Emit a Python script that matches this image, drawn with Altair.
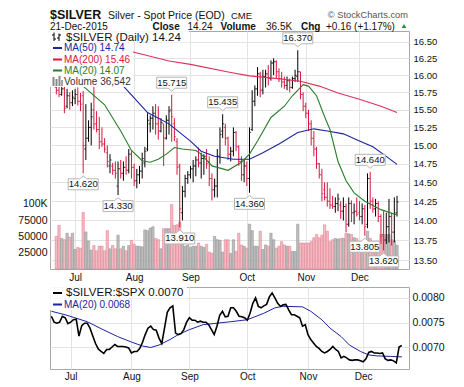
import altair as alt
import pandas as pd

# ---------------- data ----------------
MONTH_LABELS = ["Jul", "Aug", "Sep", "Oct", "Nov", "Dec"]
MONTH_START = [7, 29, 50, 71, 93, 113]          # trading-day index of first bar of each month

OPEN = [15.82, 15.78, 15.72, 15.80, 15.55, 15.70, 15.60, 15.66, 15.72, 15.62,
        15.70, 14.95, 15.10, 15.25, 15.50, 15.30, 15.22, 15.05, 15.02, 14.90,
        14.72, 14.72, 14.66, 14.45, 14.68, 14.62, 14.70, 14.66, 14.88, 14.70,
        14.52, 14.60, 14.65, 14.76, 14.95, 15.30, 15.38, 15.45, 15.30, 15.20,
        15.30, 15.10, 15.35, 15.50, 15.30, 15.05, 14.72, 14.10, 14.38, 14.55,
        14.60, 14.68, 14.72, 14.80, 14.76, 14.82, 14.85, 14.78, 14.55, 14.40,
        14.45, 14.85, 15.20, 15.25, 15.10, 14.88, 14.92, 15.18, 14.98, 14.78,
        14.60, 14.72, 14.55, 15.22, 15.62, 15.80, 16.02, 15.78, 15.98, 16.02,
        15.95, 16.18, 16.20, 16.05, 15.95, 15.90, 15.85, 15.92, 15.82, 15.95,
        15.98, 16.05, 15.72, 15.55, 15.45, 15.30, 15.10, 14.95, 14.75, 14.60,
        14.40, 14.30, 14.25, 14.20, 14.18, 14.22, 14.20, 14.12, 14.18, 13.95,
        14.22, 14.10, 14.12, 14.10, 14.05, 14.15, 13.95, 14.55, 14.25, 14.15,
        14.22, 14.05, 13.82, 13.75, 13.92, 14.05, 13.85, 14.10]
HIGH = [15.90, 15.88, 15.86, 15.84, 15.80, 15.75, 15.78, 15.80, 15.82, 15.74,
        15.77, 15.58, 15.35, 15.60, 15.88, 15.48, 15.40, 15.25, 15.10, 15.00,
        14.88, 14.76, 14.78, 14.78, 14.80, 14.78, 14.85, 14.95, 14.92, 14.75,
        14.68, 14.72, 14.90, 14.98, 15.45, 15.42, 15.55, 15.58, 15.55, 15.38,
        15.30, 15.42, 15.55, 15.715, 15.38, 15.10, 14.75, 14.45, 14.60, 14.65,
        14.72, 14.80, 14.85, 14.97, 14.90, 14.88, 14.95, 14.85, 14.62, 14.55,
        14.95, 15.25, 15.435, 15.30, 15.12, 14.98, 15.25, 15.20, 15.00, 14.85,
        14.80, 14.78, 15.25, 15.78, 15.85, 16.12, 16.05, 16.08, 16.08, 16.15,
        16.22, 16.25, 16.22, 16.10, 16.05, 15.98, 15.98, 15.95, 15.98, 16.08,
        16.37, 16.05, 15.75, 15.60, 15.50, 15.35, 15.20, 14.98, 14.76, 14.68,
        14.50, 14.50, 14.42, 14.32, 14.30, 14.35, 14.25, 14.30, 14.22, 14.30,
        14.26, 14.22, 14.30, 14.25, 14.22, 14.20, 14.62, 14.64, 14.30, 14.28,
        14.25, 14.08, 14.12, 14.10, 14.28, 14.10, 14.30, 14.32]
LOW = [15.72, 15.68, 15.70, 15.45, 15.52, 15.50, 15.55, 15.58, 15.56, 15.48,
       14.62, 14.80, 15.05, 15.00, 15.22, 15.18, 14.95, 14.98, 14.90, 14.70,
       14.62, 14.60, 14.55, 14.33, 14.55, 14.52, 14.60, 14.62, 14.55, 14.45,
       14.42, 14.48, 14.55, 14.70, 14.92, 15.18, 15.22, 15.15, 15.08, 15.18,
       14.72, 15.08, 15.15, 15.05, 15.06, 14.60, 13.91, 14.00, 14.30, 14.48,
       14.55, 14.50, 14.58, 14.70, 14.55, 14.60, 14.68, 14.45, 14.26, 14.30,
       14.30, 14.75, 15.10, 15.00, 14.80, 14.78, 14.85, 14.92, 14.72, 14.52,
       14.50, 14.45, 14.36, 15.20, 15.55, 15.70, 15.68, 15.72, 15.82, 15.85,
       15.92, 16.00, 15.95, 15.90, 15.82, 15.80, 15.78, 15.75, 15.80, 15.90,
       15.90, 15.65, 15.48, 15.38, 15.20, 15.00, 14.85, 14.68, 14.55, 14.25,
       14.26, 14.18, 14.15, 14.15, 14.10, 14.12, 14.02, 14.00, 13.85, 13.92,
       13.98, 13.95, 14.05, 14.00, 13.95, 13.805, 13.90, 14.15, 14.10, 14.05,
       13.98, 13.70, 13.62, 13.70, 13.72, 13.68, 13.72, 14.05]
CLOSE = [15.78, 15.72, 15.80, 15.52, 15.70, 15.60, 15.68, 15.72, 15.62, 15.58,
         15.00, 15.10, 15.25, 15.40, 15.30, 15.22, 15.05, 15.02, 14.95, 14.78,
         14.80, 14.66, 14.62, 14.68, 14.62, 14.70, 14.66, 14.88, 14.70, 14.52,
         14.60, 14.65, 14.82, 14.92, 15.35, 15.38, 15.45, 15.30, 15.20, 15.32,
         15.10, 15.35, 15.48, 15.40, 15.12, 14.70, 14.15, 14.38, 14.55, 14.60,
         14.68, 14.72, 14.80, 14.76, 14.82, 14.85, 14.75, 14.55, 14.40, 14.45,
         14.85, 15.15, 15.30, 15.10, 14.88, 14.92, 15.18, 14.98, 14.78, 14.60,
         14.72, 14.55, 15.18, 15.62, 15.80, 16.02, 15.78, 15.98, 16.02, 15.95,
         16.18, 16.20, 16.05, 15.95, 15.90, 15.85, 15.92, 15.82, 15.95, 16.00,
         16.05, 15.72, 15.55, 15.45, 15.30, 15.10, 14.95, 14.75, 14.60, 14.35,
         14.30, 14.25, 14.20, 14.18, 14.22, 14.28, 14.12, 14.18, 13.95, 14.22,
         14.10, 14.12, 14.08, 14.05, 14.15, 13.92, 14.55, 14.25, 14.15, 14.22,
         14.05, 13.80, 13.75, 13.92, 14.05, 13.85, 14.08, 14.24]
VOLUME = [50000, 67000, 47000, 45000, 55000, 49000, 55000, 30000, 33000, 32000,
          87000, 57000, 43000, 29000, 36000, 28000, 35000, 35000, 28000, 59000,
          31000, 36000, 31000, 52000, 31000, 35000, 28000, 36000, 44000, 38000,
          35000, 35000, 34000, 60000, 59000, 63000, 65000, 47000, 45000, 31000,
          62000, 62000, 62000, 99000, 67000, 68000, 72000, 52000, 35000, 37000,
          33000, 35000, 35000, 40000, 35000, 33000, 38000, 26000, 24000, 50000,
          45000, 44000, 26000, 45000, 45000, 24000, 45000, 27000, 55000, 37000,
          35000, 32000, 69000, 59000, 35000, 35000, 58000, 30000, 37000, 35000,
          55000, 45000, 32000, 35000, 42000, 37000, 35000, 35000, 27000, 27000,
          69000, 40000, 40000, 40000, 40000, 42000, 48000, 53000, 48000, 52000,
          68000, 58000, 42000, 45000, 47000, 46000, 47000, 47000, 55000, 54000,
          53000, 48000, 47000, 42000, 37000, 42000, 58000, 47000, 37000, 35000,
          42000, 53000, 53000, 53000, 53000, 45000, 43000, 36542]

MA200_IDX = [0, 12, 24, 32, 42, 50, 65, 72, 80, 91, 98, 105, 113, 121, 127]
MA200 = [16.70, 16.55, 16.39, 16.31, 16.21, 16.16, 16.04, 15.99, 15.96, 15.91,
         15.84, 15.74, 15.65, 15.55, 15.46]
MA50_IDX = [0, 10, 20, 25, 29, 34, 42, 50, 54, 59, 66, 72, 77, 83, 90, 96, 101,
            107, 113, 118, 123, 127]
MA50 = [16.30, 16.12, 15.96, 15.84, 15.67, 15.46, 15.30, 15.06, 14.92, 14.85,
        14.81, 14.81, 14.90, 15.02, 15.18, 15.23, 15.20, 15.16, 15.06, 14.98,
        14.85, 14.74]
MA20_IDX = [0, 5, 10, 12, 18, 24, 28, 32, 35, 38, 41, 44, 47, 52, 54, 58, 64,
            69, 72, 75, 80, 85, 88, 92, 94, 97, 100, 102, 105, 108, 111, 115,
            121, 127]
MA20 = [16.02, 15.92, 15.84, 15.77, 15.57, 15.20, 14.93, 14.79, 14.77, 14.81,
        14.88, 14.97, 14.95, 14.93, 14.88, 14.72, 14.66, 14.77, 14.88, 15.06,
        15.39, 15.55, 15.70, 15.86, 15.84, 15.70, 15.40, 15.22, 14.78, 14.52,
        14.36, 14.25, 14.14, 14.07]

RATIO = [.00763, .00751, .00749, .00751, .00763, .00760, .00748, .00751, .00756, .00757,
         .00723, .00744, .00749, .00749, .00739, .00723, .00708, .00697, .00692, .00688,
         .00696, .00696, .00701, .00706, .00702, .00702, .00702, .00701, .00699, .00689,
         .00692, .00692, .00698, .00710, .00726, .00739, .00743, .00736, .00735, .00719,
         .00708, .00739, .00771, .00780, .00784, .00729, .00726, .00728, .00736, .00751,
         .00760, .00755, .00755, .00751, .00753, .00751, .00751, .00746, .00736, .00726,
         .00743, .00765, .00773, .00762, .00763, .00780, .00780, .00773, .00763, .00762,
         .00760, .00755, .00769, .00789, .00800, .00783, .00780, .00784, .00787, .00802,
         .00810, .00800, .00789, .00783, .00786, .00787, .00776, .00766, .00766, .00763,
         .00760, .00743, .00746, .00726, .00716, .00709, .00702, .00698, .00692, .00689,
         .00692, .00696, .00702, .00696, .00692, .00679, .00682, .00679, .00675, .00674,
         .00675, .00675, .00673, .00671, .00677, .00690, .00692, .00689, .00689, .00688,
         .00689, .00677, .00674, .00675, .00673, .00669, .00701, .00704]
RATIO_MA_IDX = [0, 5, 13, 18, 24, 29, 33, 36, 39, 43, 46, 50, 55, 60, 65, 71, 77,
                81, 84, 91, 94, 98, 101, 105, 108, 112, 115, 118, 123, 127]
RATIO_MA = [.00773, .00766, .00752, .00738, .00722, .00711, .00703, .00700, .00705,
            .00716, .00726, .00736, .00746, .00749, .00752, .00756, .00769, .00780,
            .00783, .00782, .00773, .00756, .00739, .00722, .00705, .00692, .00685,
            .00683, .00682, .00681]

HI_LABEL_IDX = [43, 62, 90, 117]
HI_LABEL_VAL = [15.715, 15.435, 16.370, 14.640]
LO_LABEL_IDX = [10, 23, 46, 72, 115, 122]
LO_LABEL_VAL = [14.620, 14.330, 13.910, 14.360, 13.805, 13.620]

PRICE_TICKS = [13.50, 13.75, 14.00, 14.25, 14.50, 14.75, 15.00, 15.25, 15.50,
               15.75, 16.00, 16.25, 16.50]
VOL_TICKS = [25000, 50000, 75000, 100000]
RATIO_TICKS = [0.0070, 0.0075, 0.0080]

# ---------------- styling ----------------
FONT = "Liberation Sans"
GRID = "#e3e3e3"
RED = "#d8163e"
BLUE = "#1c24a0"
MA200_C = "#e0305a"
GREEN = "#2a7d2a"
W, H_TOP, H_BOT = 359, 238, 82

bars = pd.DataFrame({"i": list(range(len(CLOSE))), "o": OPEN, "h": HIGH,
                     "l": LOW, "c": CLOSE, "v": VOLUME})
prev_close = bars["c"].shift(1).fillna(bars["o"])
bars["dir"] = ["up" if c >= p else "down" for c, p in zip(bars["c"], prev_close)]

month_expr = " : ".join(f"datum.value == {i} ? '{m}'"
                        for i, m in zip(MONTH_START, MONTH_LABELS)) + " : ''"
XS = alt.Scale(domain=[-0.5, 129.6], nice=False, zero=False)


def xenc(field="i", pad=3):
    return alt.X(f"{field}:Q", scale=XS,
                 axis=alt.Axis(values=MONTH_START, labelExpr=month_expr, grid=True,
                               gridColor=GRID, ticks=False, domain=False,
                               labelPadding=pad, title=None, labelFontSize=10))


PS = alt.Scale(type="log", domain=[13.389, 16.663], nice=False, zero=False)
price_axis = alt.Axis(orient="right", values=PRICE_TICKS, format=".2f", grid=True,
                      gridColor=GRID, ticks=False, domain=False, labelPadding=4,
                      title=None, labelFontSize=9.5)


def yprice(field):
    return alt.Y(f"{field}:Q", scale=PS, axis=price_axis)


dir_color = alt.Color("dir:N", scale=alt.Scale(domain=["up", "down"],
                                               range=["#000000", RED]), legend=None)

# volume
vol = alt.Chart(bars).mark_bar(width=2.3, strokeWidth=0.6, opacity=0.9).encode(
    x=xenc(),
    y=alt.Y("v:Q", scale=alt.Scale(domain=[0, 366000], nice=False),
            axis=alt.Axis(orient="left", values=VOL_TICKS,
                          labelExpr="datum.value >= 100000 ? '100K' : '' + datum.value",
                          grid=False, ticks=False, domain=False, title=None,
                          labelPadding=3, labelFontSize=10.5)),
    fill=alt.Fill("dir:N", scale=alt.Scale(domain=["up", "down"],
                                           range=["#b9b9b9", "#f2b5bf"]), legend=None),
    stroke=alt.Stroke("dir:N", scale=alt.Scale(domain=["up", "down"],
                                               range=["#8c8c8c", "#e07888"]), legend=None),
)

hl = alt.Chart(bars).mark_rule(strokeWidth=1).encode(
    x=xenc(), y=yprice("h"), y2="l", color=dir_color)
opn = alt.Chart(bars).mark_tick(orient="horizontal", size=1.6, thickness=1,
                                xOffset=-0.8).encode(x=xenc(), y=yprice("o"), color=dir_color)
cls = alt.Chart(bars).mark_tick(orient="horizontal", size=1.6, thickness=1,
                                xOffset=0.8).encode(x=xenc(), y=yprice("c"), color=dir_color)


def ma_line(idx, vals, color):
    d = pd.DataFrame({"i": idx, "m": vals})
    return alt.Chart(d).mark_line(color=color, strokeWidth=1.1, clip=True).encode(
        x=xenc(), y=yprice("m"))


ma200 = ma_line(MA200_IDX, MA200, MA200_C)
ma50 = ma_line(MA50_IDX, MA50, BLUE)
ma20 = ma_line(MA20_IDX, MA20, GREEN)

BOX_HI = "M-1.5,-0.55H1.5V0.55H0.35L0,0.85L-0.35,0.55H-1.5Z"
BOX_LO = "M-1.5,0.55H1.5V-0.55H0.35L0,-0.85L-0.35,-0.55H-1.5Z"
hi_df = pd.DataFrame({"i": HI_LABEL_IDX, "p": HI_LABEL_VAL,
                      "t": [f"{v:.3f}" for v in HI_LABEL_VAL]})
lo_df = pd.DataFrame({"i": LO_LABEL_IDX, "p": LO_LABEL_VAL,
                      "t": [f"{v:.3f}" for v in LO_LABEL_VAL]})


def label_layers(d, path, dy):
    box = alt.Chart(d).mark_point(shape=path, size=400, filled=True, fill="white",
                                  stroke="#b5b5b5", strokeWidth=1, opacity=1,
                                  yOffset=dy).encode(x=xenc(), y=yprice("p"))
    txt = alt.Chart(d).mark_text(font=FONT, fontSize=9.5, color="#111", yOffset=dy,
                                 baseline="middle").encode(x=xenc(), y=yprice("p"), text="t:N")
    return [box, txt]


dummy = pd.DataFrame({"a": [0]})


def rect(x0, x1, y0, y1, color="white", opacity=0.92):
    return alt.Chart(dummy).mark_rect(color=color, opacity=opacity).encode(
        x=alt.value(x0), x2=alt.value(x1), y=alt.value(y0), y2=alt.value(y1))


def seg(x0, x1, y0, y1, color, w=2):
    return alt.Chart(dummy).mark_rule(color=color, strokeWidth=w).encode(
        x=alt.value(x0), x2=alt.value(x1), y=alt.value(y0), y2=alt.value(y1))


def txt(x, y, s, size=10, color="#111", weight="normal", align="left",
        baseline="middle", font=FONT):
    return alt.Chart(dummy).mark_text(text=s, font=font, fontSize=size, color=color,
                                      fontWeight=weight, align=align,
                                      baseline=baseline).encode(
        x=alt.value(x), y=alt.value(y))


legend_top = [
    rect(0, 139, 0, 11.5), rect(0, 83, 11.5, 56),
    seg(4, 4, 1.5, 10, "#000", 1), seg(2, 4, 4, 4, "#000", 1), seg(4, 6, 8, 8, "#000", 1),
    seg(9, 9, 2.5, 10, "#000", 1), seg(7, 9, 7, 7, "#000", 1), seg(9, 11, 4, 4, "#000", 1),
    txt(16, 6.5, "$SILVER (Daily) 14.24", 11.5),
    seg(3, 12, 17, 17, BLUE), txt(14, 17, "MA(50) 14.74", 10, BLUE),
    seg(3, 12, 28.5, 28.5, RED), txt(14, 28.5, "MA(200) 15.46", 10, RED),
    seg(3, 12, 39.5, 39.5, GREEN), txt(14, 39.5, "MA(20) 14.07", 10, GREEN),
    seg(3.5, 3.5, 46, 55, "#888", 2), seg(6.5, 6.5, 48, 55, "#888", 2),
    seg(9.5, 9.5, 45, 55, "#888", 2), seg(12, 12, 49, 55, "#888", 1.5),
    txt(14, 50.5, "Volume 36,542", 10, "#333"),
]

R1, R2 = -12.5, -1.5
header = [
    txt(0, R1, "$SILVER", 12.5, "#111", "bold", baseline="alphabetic"),
    txt(58, R1, "Silver - Spot Price (EOD)", 10.5, baseline="alphabetic"),
    txt(181, R1, "CME", 9.5, baseline="alphabetic"),
    txt(358, R1 - 1, "\u00a9 StockCharts.com", 9.3, "#555", align="right",
        baseline="alphabetic"),
    txt(0, R2, "21-Dec-2015", 10, baseline="alphabetic"),
    txt(102.5, R2, "Close", 10, weight="bold", baseline="alphabetic"),
    txt(137.5, R2, "14.24", 10, baseline="alphabetic"),
    txt(170.5, R2, "Volume", 10, weight="bold", baseline="alphabetic"),
    txt(216, R2, "36.5K", 10, baseline="alphabetic"),
    txt(251, R2, "Chg", 10, weight="bold", baseline="alphabetic"),
    txt(276, R2, "+0.16 (+1.17%)", 10, baseline="alphabetic"),
    alt.Chart(dummy).mark_point(shape="triangle-up", filled=True, color="#2e8b3a",
                                size=22, opacity=1).encode(x=alt.value(354), y=alt.value(-5)),
]

price_layer = alt.layer(hl, opn, cls, ma200, ma50, ma20,
                        *label_layers(hi_df, BOX_HI, -12),
                        *label_layers(lo_df, BOX_LO, 11),
                        *legend_top, *header)

top = alt.layer(vol, price_layer).resolve_scale(y="independent").properties(
    width=W, height=H_TOP)

# ---------------- lower panel ----------------
ratio_df = pd.DataFrame({"i": list(range(len(RATIO))), "r": RATIO})
rma_df = pd.DataFrame({"i": RATIO_MA_IDX, "r": RATIO_MA})
RS = alt.Scale(domain=[0.006566, 0.00822], nice=False, zero=False)
ratio_axis = alt.Axis(orient="right", values=RATIO_TICKS, format=".4f", grid=True,
                      gridColor=GRID, ticks=False, domain=False, labelPadding=3,
                      title=None, labelFontSize=10.5)

rma = alt.Chart(rma_df).mark_line(color=BLUE, strokeWidth=1).encode(
    x=xenc(pad=2), y=alt.Y("r:Q", scale=RS, axis=ratio_axis))
rline = alt.Chart(ratio_df).mark_line(color="#000", strokeWidth=1.6).encode(
    x=xenc(pad=2), y=alt.Y("r:Q", scale=RS, axis=ratio_axis))

legend_bot = [
    rect(0, 137, 0, 11.5), rect(0, 78, 11.5, 23),
    seg(3, 12, 6, 6, "#000"), txt(16, 6, "$SILVER:$SPX 0.0070", 11.5),
    seg(3, 12, 17.5, 17.5, BLUE), txt(14, 17.5, "MA(20) 0.0068", 10, BLUE),
]

bottom = alt.layer(rma, rline, *legend_bot).properties(width=W, height=H_BOT)

chart = alt.vconcat(top, bottom, spacing=3).properties(
    padding={"left": 9, "top": 0, "right": 2, "bottom": 0},
    background="white",
).configure_view(stroke="#a8a8a8", strokeWidth=1).configure_axis(
    labelFont=FONT, labelColor="#111")

chart.save("out.html", embed_options={"renderer": "svg", "actions": False})
